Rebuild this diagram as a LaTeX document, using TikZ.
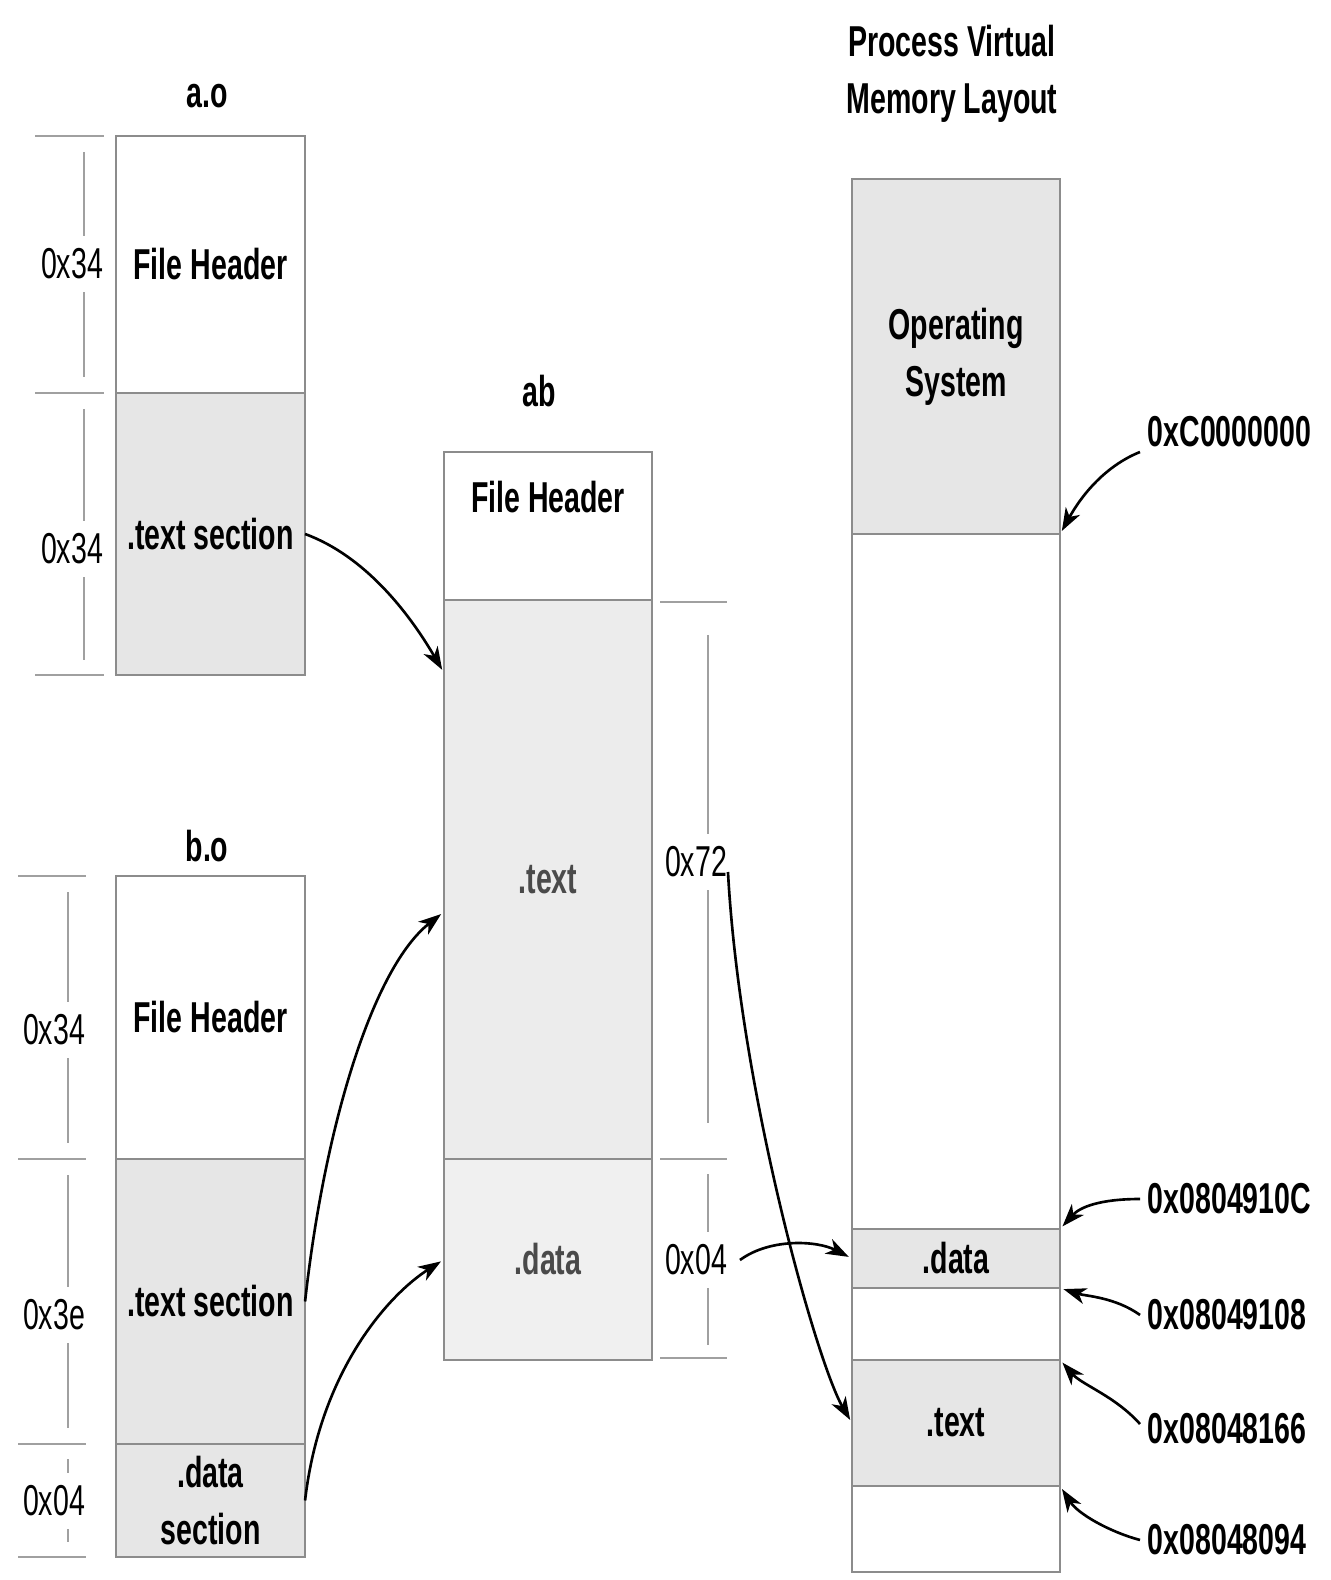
\documentclass[tikz,border=0pt]{standalone}
\usepackage{fontspec}
\setmainfont{Liberation Sans}[FakeStretch=0.66]
\usepackage{tikz}
\usetikzlibrary{arrows.meta, calc, positioning}

\definecolor{edge}{HTML}{8C8C8C}
\definecolor{secfill}{HTML}{E6E6E6}
\definecolor{abtextfill}{HTML}{ECECEC}
\definecolor{abdatafill}{HTML}{F0F0F0}
\definecolor{dimline}{HTML}{A0A0A0}
\definecolor{fadetext}{HTML}{4A4A4A}

\newcommand{\lblbold}{\fontsize{12.3}{16.3}\selectfont\bfseries}

\tikzset{
  sec/.style={draw=edge, line width=0.7pt, inner sep=0pt, outer sep=0pt,
    minimum width=1.89cm, font=\lblbold, align=center},
  wide/.style={sec, minimum width=2.08cm},
  title/.style={font=\lblbold, align=center},
  dimtick/.style={draw=dimline, line width=0.6pt},
  dimlbl/.style={fill=white, inner sep=3.5pt},
  addr/.style={font=\lblbold, anchor=west, inner sep=2pt},
  link/.style={-{Stealth[length=6.5pt, width=4.6pt, inset=1.9pt]}, line width=0.75pt, shorten >=1pt},
}

\begin{document}
\begin{tikzpicture}[x=0.01cm, y=-0.01cm, font=\fontsize{12.3}{16.3}\selectfont]
    \useasboundingbox (0,0) rectangle (1330,1580);

    % a.o
    \node[title] (aotitle) at (207,96) {a.o};
    \node[sec, minimum height=2.57cm] (aohdr) at (210.5,264.5) {File Header};
    \node[sec, fill=secfill, minimum height=2.82cm] (aotext) at (210.5,534) {.text section};

    \draw[dimtick] (35,136) -- (104,136);
    \draw[dimtick] (35,393) -- (104,393);
    \draw[dimtick] (35,675) -- (104,675);
    \draw[dimtick] (84,152) -- (84,377);
    \draw[dimtick] (84,409) -- (84,660);
    \node[dimlbl] (aodim1) at (72,264) {0x34};
    \node[dimlbl] (aodim2) at (72,549) {0x34};

    % b.o
    \node[title] (botitle) at (207,846) {b.o};
    \node[sec, minimum height=2.83cm] (bohdr) at (210.5,1017.5) {File Header};
    \node[sec, fill=secfill, minimum height=2.85cm] (botext) at (210.5,1301.5) {.text section};
    \node[sec, fill=secfill, minimum height=1.13cm] (bodata) at (210.5,1500.5) {.data\\section};

    \draw[dimtick] (18,876) -- (86,876);
    \draw[dimtick] (18,1159) -- (86,1159);
    \draw[dimtick] (18,1444) -- (86,1444);
    \draw[dimtick] (18,1557) -- (86,1557);
    \draw[dimtick] (68,892) -- (68,1143);
    \draw[dimtick] (68,1175) -- (68,1428);
    \draw[dimtick] (68,1459) -- (68,1542);
    \node[dimlbl] (bodim1) at (54,1030) {0x34};
    \node[dimlbl] (bodim2) at (54,1315) {0x3e};
    \node[dimlbl] (bodim3) at (54,1501) {0x04};

    % ab
    \node[title] (abtitle) at (539,391) {ab};
    \node[wide, minimum height=1.48cm] (abhdr) at (548,526) {};
    \node[title] (abhdrtxt) at (548,497) {File Header};
    \node[wide, fill=abtextfill, text=fadetext, minimum height=5.59cm] (abtext) at (548,879.5) {.text};
    \node[wide, fill=abdatafill, text=fadetext, minimum height=2.01cm] (abdata) at (548,1259.5) {.data};

    \draw[dimtick] (660,602) -- (727,602);
    \draw[dimtick] (660,1159) -- (727,1159);
    \draw[dimtick] (660,1358) -- (727,1358);
    \draw[dimtick] (708,635) -- (708,1123);
    \draw[dimtick] (708,1174) -- (708,1345);
    \node[dimlbl] (abdim1) at (696,862) {0x72};
    \node[dimlbl] (abdim2) at (696,1260) {0x04};

    % process virtual memory layout
    \node[title] (vmtitle) at (952,74) {Process Virtual\\Memory Layout};
    \node[wide, fill=secfill, minimum height=3.55cm] (os) at (956,356.5) {Operating\\System};
    \node[wide, minimum height=6.95cm] (free1) at (956,881.5) {};
    \node[wide, fill=secfill, minimum height=0.59cm] (vdata) at (956,1258.5) {.data};
    \node[wide, minimum height=0.72cm] (free2) at (956,1324) {};
    \node[wide, fill=secfill, minimum height=1.26cm] (vtext) at (956,1423) {.text};
    \node[wide, minimum height=0.86cm] (free3) at (956,1529) {};

    % addresses
    \node[addr] (c0) at (1140,432) {0xC0000000};
    \node[addr] (a910c) at (1140,1199) {0x0804910C};
    \node[addr] (a9108) at (1140,1315) {0x08049108};
    \node[addr] (a8166) at (1140,1429) {0x08048166};
    \node[addr] (a8094) at (1140,1540) {0x08048094};

    % linking
    \draw[link] (aotext.east) .. controls +(60,22) and +(-35,-60) .. ($(abtext.north west)+(0,73)$);
    \draw[link] (botext.east) .. controls +(20,-180) and +(-70,55) .. ($(abtext.north west)+(0,312)$);
    \draw[link] (bodata.east) .. controls +(15,-130) and +(-55,35) .. (abdata.west);

    % loading
    \draw[link] ($(abdim1.east)+(-12,10)$) .. controls +(12,220) and +(-35,-60) .. (vtext.west);
    \draw[link] (abdim2.east) .. controls +(30,-22) and +(-35,-18) .. (vdata.west);

    \draw[link] ($(c0.west)+(0,20)$) .. controls +(-30,12) and +(25,-45) .. (os.south east);
    \draw[link] (a910c.west) .. controls +(-40,0) and +(20,-22) .. (vdata.north east);
    \draw[link] (a9108.west) .. controls +(-25,-18) and +(25,8) .. (vdata.south east);
    \draw[link] ($(a8166.west)+(0,-5)$) .. controls +(-25,-28) and +(22,25) .. (vtext.north east);
    \draw[link] (a8094.west) .. controls +(-30,-8) and +(18,28) .. (vtext.south east);
\end{tikzpicture}
\end{document}
